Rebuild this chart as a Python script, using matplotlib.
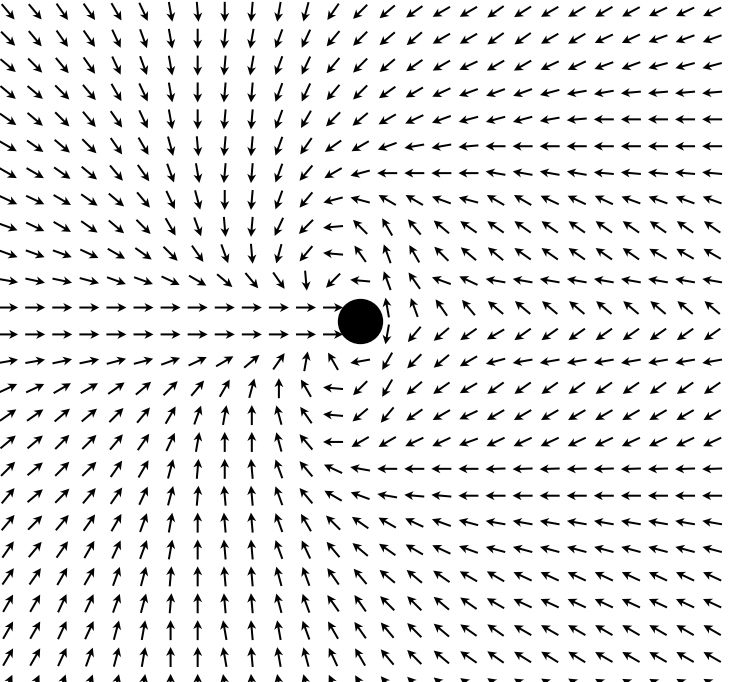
import numpy as np
import matplotlib
matplotlib.use("Agg")
import matplotlib.pyplot as plt

# grid of arrow positions (cm), goal marker at the origin
x_cols = [-65, -60, -55, -50, -45, -40, -35, -30, -25, -20, -15, -10, -5, 0,
          5, 10, 15, 20, 25, 30, 35, 40, 45, 50, 55, 60, 65]
y_rows = [57.5, 52.5, 47.5, 42.5, 37.5, 32.5, 27.5, 22.5, 17.5, 12.5, 7.5, 2.5,
          -2.5, -7.5, -12.5, -17.5, -22.5, -27.5, -32.5, -37.5, -42.5, -47.5,
          -52.5, -57.5, -62.5, -67.5]
goal_x = 0.0
goal_y = 0.0

# arrow heading in degrees (0 = right, 90 = up), one row per y value
heading_deg = [
    [-50, -50, -55, -55, -60, -65, -80, -85, -90, -95, -100, -105, -125, -135, -140, -145, -150, -150, -145, -148, -150, -150, -150, -152, -155, -155, -155],
    [-45, -50, -55, -55, -65, -70, -80, -90, -95, -100, -110, -115, -130, -135, -140, -140, -150, -150, -145, -145, -150, -150, -155, -155, -160, -160, -160],
    [-40, -45, -50, -55, -65, -70, -80, -90, -95, -100, -110, -115, -130, -135, -140, -145, -150, -155, -150, -150, -155, -155, -160, -160, -165, -165, -165],
    [-40, -40, -45, -50, -60, -65, -80, -90, -95, -95, -110, -115, -130, -135, -145, -150, -155, -160, -160, -160, -165, -170, -170, -175, -175, -175, -175],
    [-35, -40, -45, -50, -55, -65, -80, -90, -95, -95, -110, -120, -135, -140, -150, -155, -160, -165, -165, -165, -170, -175, 180, 180, 180, 180, 180],
    [-30, -35, -40, -45, -55, -60, -75, -85, -95, -95, -110, -125, -145, -150, -160, -170, -170, -175, 180, 180, 180, 180, 180, 180, 180, 180, 180],
    [-30, -30, -35, -40, -50, -55, -70, -80, -95, -95, -110, -130, -150, -165, 180, 180, 180, 180, 170, 170, 170, 170, 175, 175, 175, 175, 175],
    [-25, -25, -30, -35, -40, -50, -65, -75, -90, -95, -110, -130, -165, 165, 150, 150, 160, 165, 150, 150, 155, 155, 155, 160, 160, 160, 160],
    [-20, -25, -30, -35, -40, -45, -60, -70, -85, -95, -115, -135, -175, 135, 120, 130, 140, 145, 145, 145, 145, 145, 145, 145, 145, 145, 145],
    [-20, -20, -20, -25, -30, -35, -45, -55, -70, -85, -105, -130, 175, 125, 110, 120, 135, 140, 140, 145, 145, 145, 145, 145, 150, 150, 150],
    [-10, -12, -12, -15, -20, -20, -25, -30, -40, -50, -55, -85, -135, 175, 110, 125, 160, 155, 170, 170, 170, 170, 170, 170, 170, 170, 170],
    [0, 0, 0, 0, 0, 0, 0, 0, 0, 0, 0, 0, 0, 0, 100, 110, 125, 130, 140, 140, 140, 140, 140, 140, 140, 140, 140],
    [0, 0, 0, 0, 0, 0, 0, 0, 0, 0, 0, 0, 0, 0, -100, -130, -140, -145, -150, -145, -145, -145, -145, -145, -145, -145, -145],
    [10, 10, 12, 12, 15, 15, 20, 25, 30, 40, 55, 80, 120, -170, -120, -135, -140, -150, -165, -170, -170, -170, -170, -170, -170, -170, -170],
    [25, 25, 30, 30, 35, 40, 45, 50, 60, 75, 90, 120, 175, -135, -120, -140, -145, -150, -145, -145, -145, -145, -145, -145, -145, -145, -145],
    [35, 35, 40, 40, 45, 50, 60, 70, 80, 90, 105, 125, 175, -140, -130, -145, -150, -155, -150, -150, -150, -150, -150, -150, -150, -150, -150],
    [40, 40, 45, 45, 50, 55, 65, 80, 90, 90, 105, 130, 180, -150, -150, -155, -155, -160, -155, -155, -155, -155, -155, -155, -155, -155, -155],
    [45, 40, 45, 45, 55, 60, 75, 85, 90, 95, 110, 130, 155, 170, 180, 180, 180, 180, -178, -178, -178, -178, -178, -178, -178, -178, -178],
    [50, 40, 45, 50, 55, 65, 75, 85, 95, 95, 110, 130, 150, 160, 170, 175, 175, 180, 180, 180, 180, 180, 180, 180, 180, 180, 180],
    [50, 45, 50, 55, 60, 70, 80, 90, 95, 95, 110, 120, 135, 145, 150, 155, 160, 165, 170, 170, 170, 170, 170, 170, 170, 170, 170],
    [55, 50, 55, 60, 65, 70, 80, 90, 95, 95, 110, 115, 130, 140, 145, 150, 155, 160, 165, 165, 165, 165, 165, 165, 165, 165, 165],
    [55, 55, 60, 60, 70, 75, 85, 90, 95, 95, 105, 110, 125, 130, 140, 140, 145, 150, 150, 155, 155, 155, 155, 155, 155, 155, 155],
    [60, 60, 65, 65, 70, 75, 85, 90, 95, 95, 105, 110, 125, 125, 135, 135, 140, 145, 150, 155, 155, 155, 155, 155, 155, 155, 155],
    [60, 60, 65, 65, 75, 80, 90, 90, 100, 95, 100, 110, 120, 125, 130, 135, 140, 145, 145, 150, 150, 150, 150, 150, 150, 150, 150],
    [60, 60, 65, 70, 75, 80, 90, 90, 100, 95, 100, 105, 115, 120, 130, 135, 140, 145, 145, 148, 148, 148, 150, 150, 150, 150, 150],
    [65, 65, 70, 70, 75, 80, 90, 90, 100, 95, 100, 105, 115, 120, 130, 135, 140, 145, 145, 148, 148, 148, 150, 150, 150, 150, 150],
]

X, Y = np.meshgrid(x_cols, y_rows)
theta = np.radians(np.array(heading_deg, dtype=float))
U = np.cos(theta)
V = np.sin(theta)

fig = plt.figure(figsize=(7.3, 6.82), dpi=100)
ax = fig.add_axes([0, 0, 1, 1])

# unit arrows, ~20 px long
ax.quiver(X, Y, U, V, angles='uv', pivot='mid',
          scale_units='inches', scale=1 / 0.20,
          units='dots', width=2.0, headwidth=4.5, headlength=4.5, headaxislength=3.5,
          color='black', zorder=2)

# goal marker
ax.scatter([goal_x], [goal_y], s=1000, color='black', zorder=3)

ax.set_xlim(-66.5, 68.3)
ax.set_ylim(-67.15, 59.7)
ax.axis('off')

fig.savefig("out.png", dpi=100)
